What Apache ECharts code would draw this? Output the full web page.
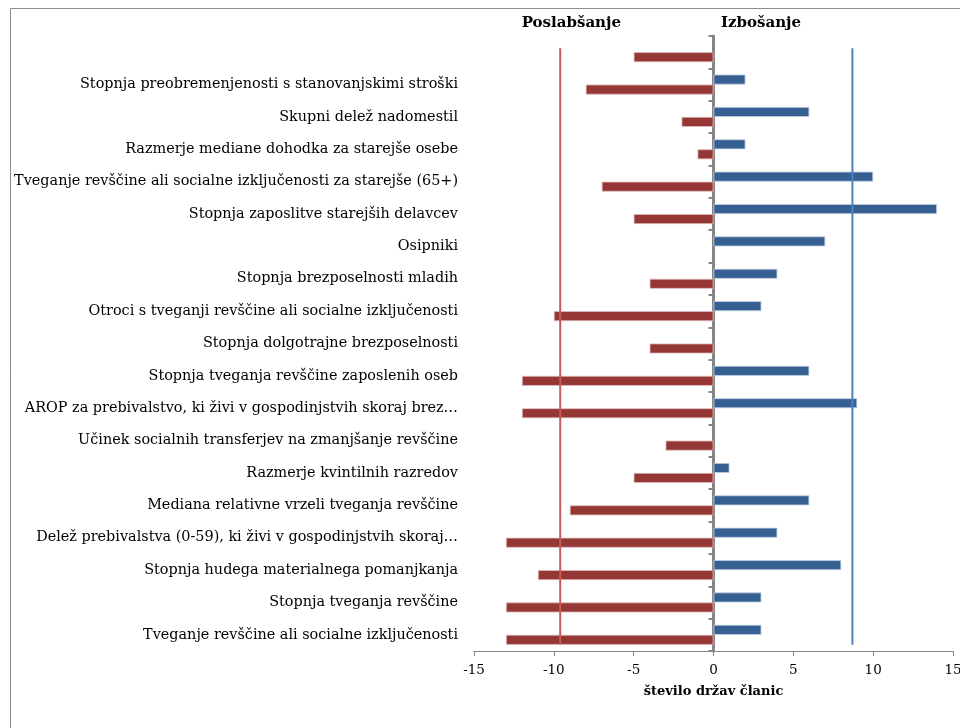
<!DOCTYPE html>
<html>
<head>
<meta charset="utf-8">
<script src="https://cdn.jsdelivr.net/npm/echarts@6/dist/echarts.min.js"></script>
<style>
html,body{margin:0;padding:0;background:#fff;}
#chart{width:960px;height:728px;}
</style>
</head>
<body>
<div id="chart"></div>
<script>
// Categories, top to bottom
var categories = [
  "",
  "Stopnja preobremenjenosti s stanovanjskimi stroški",
  "Skupni delež nadomestil",
  "Razmerje mediane dohodka za starejše osebe",
  "Tveganje revščine ali socialne izključenosti za starejše (65+)",
  "Stopnja zaposlitve starejših delavcev",
  "Osipniki",
  "Stopnja brezposelnosti mladih",
  "Otroci s tveganji revščine ali socialne izključenosti",
  "Stopnja dolgotrajne brezposelnosti",
  "Stopnja tveganja revščine zaposlenih oseb",
  "AROP za prebivalstvo, ki živi v gospodinjstvih skoraj brez…",
  "Učinek socialnih transferjev na zmanjšanje revščine",
  "Razmerje kvintilnih razredov",
  "Mediana relativne vrzeli tveganja revščine",
  "Delež prebivalstva (0-59), ki živi v gospodinjstvih skoraj…",
  "Stopnja hudega materialnega pomanjkanja",
  "Stopnja tveganja revščine",
  "Tveganje revščine ali socialne izključenosti"
];
// Izbošanje (improvement), positive
var improved = [null, 2, 6, 2, 10, 14, 7, 4, 3, null, 6, 9, null, 1, 6, 4, 8, 3, 3];
// Poslabšanje (deterioration), negative
var worsened = [-5, -8, -2, -1, -7, -5, null, -4, -10, -4, -12, -12, -3, -5, -9, -13, -11, -13, -13];
// Average reference lines
var avgWorsened = -9.6;
var avgImproved = 8.7;
var xTicks = { min: -15, max: 15, interval: 5 };
var headerLeft = "Poslabšanje";
var headerRight = "Izbošanje";
var xAxisName = "število držav članic";

var serif = "DejaVu Serif";
var chart = echarts.init(document.getElementById('chart'), null, {renderer: 'canvas'});
var option = {
  backgroundColor: '#ffffff',
  animation: false,
  grid: { left: 474, right: 7, top: 36, bottom: 77, containLabel: false, outerBoundsMode: 'none' },
  graphic: [
    { type: 'rect', shape: { x: 10.5, y: 8.5, width: 1000, height: 800 },
      style: { fill: null, stroke: '#8c8c8c', lineWidth: 1 }, silent: true },
    { type: 'text', x: 621, y: 23, style: { text: headerLeft, font: 'bold 15px "DejaVu Serif"', fill: '#000', textAlign: 'right', textVerticalAlign: 'middle' } },
    { type: 'text', x: 721, y: 23, style: { text: headerRight, font: 'bold 15px "DejaVu Serif"', fill: '#000', textAlign: 'left', textVerticalAlign: 'middle' } }
  ],
  xAxis: {
    type: 'value', min: xTicks.min, max: xTicks.max, interval: xTicks.interval,
    name: xAxisName, nameLocation: 'middle', nameGap: 34,
    nameTextStyle: { fontFamily: serif, fontWeight: 'bold', fontSize: 13, color: '#000' },
    axisLine: { show: true, onZero: false, lineStyle: { color: '#868686', width: 1 } },
    axisTick: { show: true, length: 5, lineStyle: { color: '#868686' } },
    axisLabel: { fontFamily: serif, fontSize: 13.5, color: '#000', margin: 12 },
    splitLine: { show: false }
  },
  yAxis: [
    {
      type: 'category', data: categories, inverse: true,
      axisLine: { show: true, onZero: true, lineStyle: { color: '#868686', width: 3 } },
      axisTick: { show: true, length: 5, lineStyle: { color: '#868686', width: 2 } },
      axisLabel: { fontFamily: serif, fontSize: 14.4, color: '#000', margin: 16 },
      splitLine: { show: false }
    },
    { type: 'value', min: 0, max: 1, show: false }
  ],
  series: [
    {
      name: headerRight, type: 'bar', data: improved, barWidth: 10, barGap: '0%',
      itemStyle: { color: '#376092', borderColor: '#c3d0e2', borderWidth: 0.8 }
    },
    {
      name: headerLeft, type: 'bar', data: worsened, barWidth: 10, barGap: '0%',
      itemStyle: { color: '#953735', borderColor: '#e0bdbc', borderWidth: 0.8 }
    },
    {
      type: 'line', yAxisIndex: 1, symbol: 'none', silent: true, z: 5,
      data: [[avgWorsened, 0.01], [avgWorsened, 0.98]],
      lineStyle: { color: '#c65a58', width: 2 }
    },
    {
      type: 'line', yAxisIndex: 1, symbol: 'none', silent: true, z: 5,
      data: [[avgImproved, 0.01], [avgImproved, 0.98]],
      lineStyle: { color: '#4f81bd', width: 2 }
    }
  ]
};
chart.setOption(option);
</script>
</body>
</html>
